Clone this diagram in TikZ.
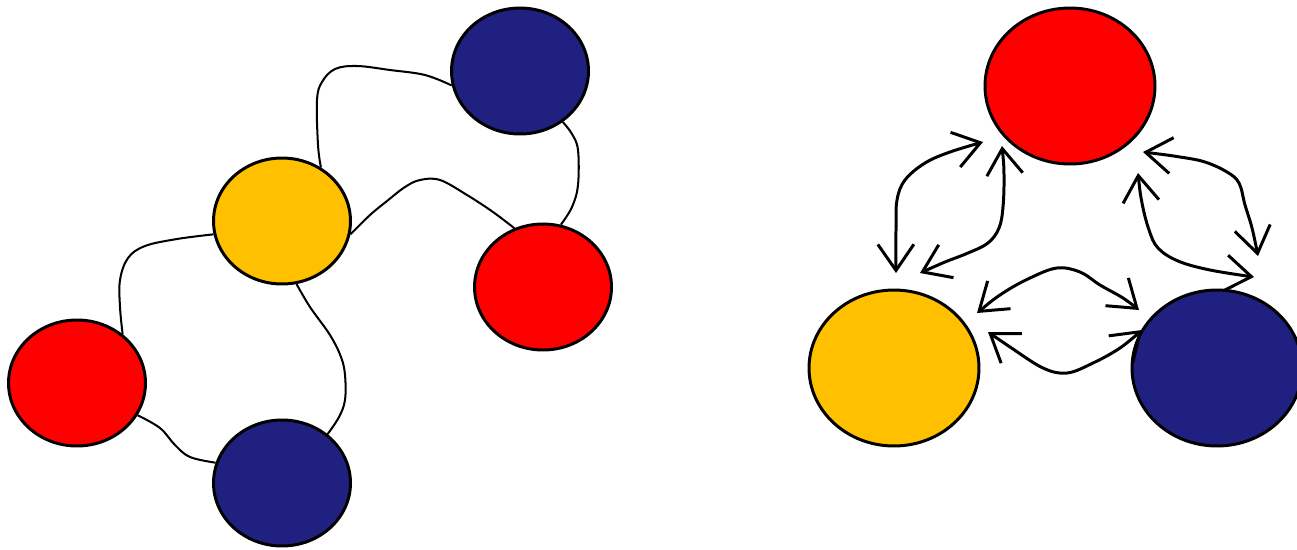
\documentclass[tikz,border=0pt]{standalone}
\usetikzlibrary{shapes.geometric,arrows.meta}
\definecolor{nblue}{RGB}{32,32,128}
\definecolor{nyellow}{RGB}{255,192,0}
\definecolor{nred}{RGB}{255,0,0}
\begin{document}
\begin{tikzpicture}[x=0.02cm,y=-0.02cm,
  ball/.style={ellipse, draw=black, line width=1.7pt, inner sep=0pt},
  small/.style={minimum width=2.74cm, minimum height=2.52cm},
  big/.style={minimum width=3.4cm, minimum height=3.12cm},
  conn/.style={line width=1.15pt, line join=round},
  arr/.style={line width=1.7pt, line join=round, {Straight Barb[length=0.52cm,width=0.72cm]}-{Straight Barb[length=0.52cm,width=0.72cm]}}]
\useasboundingbox (0,0) rectangle (1297,549);
% left graph
\node[ball, small, fill=nblue]   (lbA) at (520,71)  {};
\node[ball, small, fill=nyellow] (ly)  at (282,221) {};
\node[ball, small, fill=nred]    (lrR) at (543,287) {};
\node[ball, small, fill=nred]    (lrL) at (77,383)  {};
\node[ball, small, fill=nblue]   (lbB) at (282,483) {};
% right graph
\node[ball, big, fill=nred]    (rr) at (1070,86)  {};
\node[ball, big, fill=nyellow] (ry) at (894,368)  {};
\node[ball, big, fill=nblue]   (rb) at (1217,368) {};
% left connectors
\draw[conn] plot[smooth, tension=0.6] coordinates {(lbA.192) (425,75) (390,70) (357,66) (335,69) (322,82) (317,100) (318,145) (ly.54)};
\draw[conn] plot[smooth, tension=0.6] coordinates {(lbA.310) (572,134) (578,150) (578,185) (572,207) (lrR.74)};
\draw[conn] plot[smooth, tension=0.6] coordinates {(ly.349) (370,215) (387,201) (405,187) (420,180) (440,180) (467,195) (493,212) (lrR.116)};
\draw[conn] plot[smooth, tension=0.6] coordinates {(ly.191) (177,239) (145,246) (128,258) (120,280) (120,307) (lrL.47)};
\draw[conn] plot[smooth, tension=0.6] coordinates {(ly.283) (310,307) (330,335) (341,357) (345,375) (345,400) (339,417) (lbB.47)};
\draw[conn] plot[smooth, tension=0.6] coordinates {(lrL.332) (160,428) (175,445) (190,457) (lbB.163)};
% right arrows
\coordinate (a1) at (896,273);  \coordinate (a2) at (983,142);
\coordinate (b1) at (1002,146); \coordinate (b2) at (920,273);
\coordinate (c1) at (1143,152); \coordinate (c2) at (1258,256);
\coordinate (d1) at (1138,173); \coordinate (d2) at (1254,277);
\coordinate (e1) at (977,313);  \coordinate (e2) at (1139,310);
\coordinate (f1) at (988,332);  \coordinate (f2) at (1142,330);
\draw[arr] plot[smooth, tension=0.6] coordinates {(a1) (896,230) (897,200) (905,180) (925,163) (950,152) (a2)};
\draw[arr] plot[smooth, tension=0.6] coordinates {(b1) (1004,175) (1003,207) (999,228) (988,243) (968,253) (945,262) (b2)};
\draw[arr] plot[smooth, tension=0.6] coordinates {(c1) (1180,157) (1205,162) (1227,172) (1239,183) (1245,205) (1252,228) (c2)};
\draw[arr] plot[smooth, tension=0.6] coordinates {(d1) (1142,203) (1149,230) (1158,248) (1178,261) (1210,270) (d2)};
\draw[arr] plot[smooth, tension=0.6] coordinates {(e1) (1003,293) (1030,278) (1057,268) (1080,272) (1100,285) (1123,298) (e2)};
\draw[arr] plot[smooth, tension=0.6] coordinates {(f1) (1010,347) (1043,368) (1067,373) (1093,363) (1120,348) (f2)};
\end{tikzpicture}
\end{document}
